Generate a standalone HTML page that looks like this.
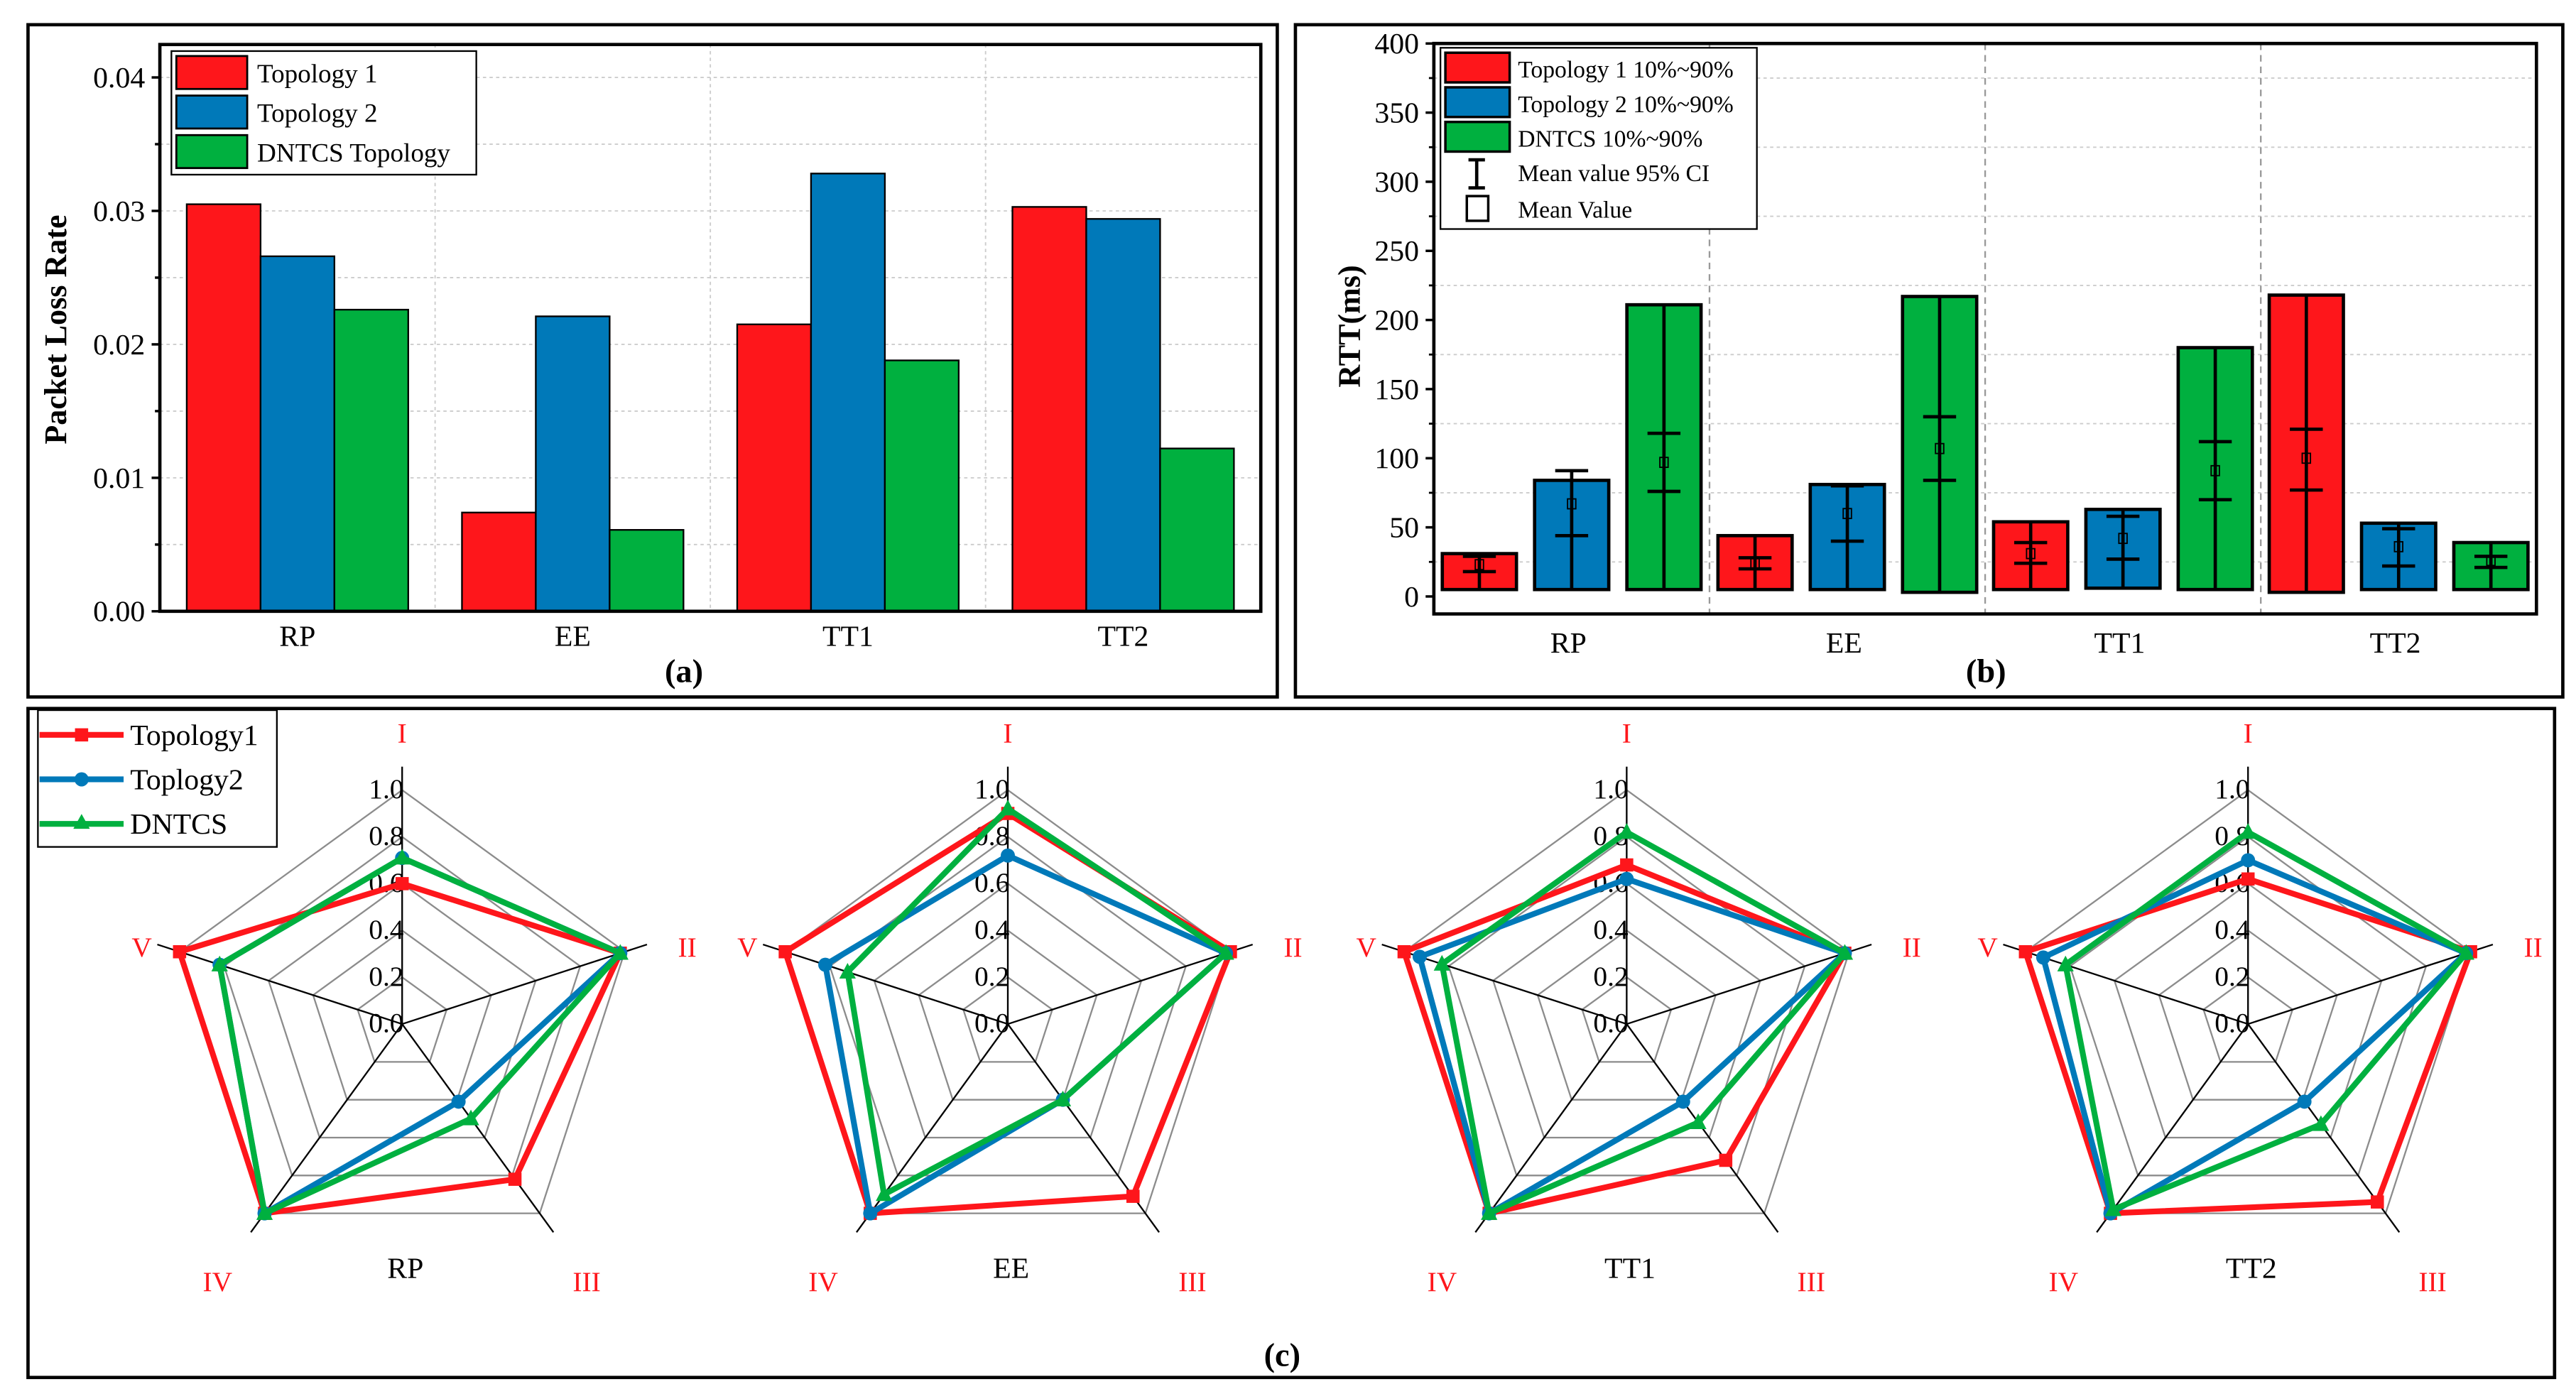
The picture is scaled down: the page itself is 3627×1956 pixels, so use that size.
<!DOCTYPE html>
<html><head><meta charset="utf-8"><style>
html,body{margin:0;padding:0;background:#fff;}
svg{display:block;font-family:"Liberation Serif",serif;}
</style></head><body>
<svg id="fig" xmlns="http://www.w3.org/2000/svg" width="3627" height="1956" viewBox="0 0 1563 843" preserveAspectRatio="none">
<rect x="0" y="0" width="1563" height="843" fill="#fff"/>
<rect x="17" y="15" width="758" height="408" fill="none" stroke="#000" stroke-width="2"/>
<rect x="786" y="15" width="769" height="408" fill="none" stroke="#000" stroke-width="2"/>
<rect x="17" y="430" width="1533" height="406" fill="none" stroke="#000" stroke-width="2"/>
<g id="ga"></g><g id="gb"></g><g id="gc"></g>
<text x="415" y="414" font-size="20" font-weight="bold" text-anchor="middle">(a)</text>
<text x="1205" y="414" font-size="20" font-weight="bold" text-anchor="middle">(b)</text>
<text x="778" y="829" font-size="20" font-weight="bold" text-anchor="middle">(c)</text>
</svg>
<script>
// ---------- Panel (a) data ----------
const aCategories = ["RP","EE","TT1","TT2"];
const aTopo1 = [0.0305,0.0074,0.0215,0.0303];
const aTopo2 = [0.0266,0.0221,0.0328,0.0294];
const aDntcs = [0.0226,0.0061,0.0188,0.0122];
const aTicks = ["0.00","0.01","0.02","0.03","0.04"];
const aTickVals = [0,0.01,0.02,0.03,0.04];
// ---------- Panel (b) data ----------
const bCategories = ["RP","EE","TT1","TT2"];
const bBottom = [[5,5,5],[5,5,3],[5,6,5],[3,5,5]];
const bTop = [[31,84,211],[44,81,217],[54,63,180],[218,53,39]];
const bCiLow = [[18,44,76],[20,40,84],[24,27,70],[77,22,21]];
const bCiHigh = [[29,91,118],[28,80,130],[39,58,112],[121,49,29]];
const bMean = [[23,67,97],[24,60,107],[31,42,91],[100,36,26]];
const bTicks = [0,50,100,150,200,250,300,350,400];
// ---------- Panel (c) data ----------
const cCharts = ["RP","EE","TT1","TT2"];
const cAxes = ["I","II","III","IV","V"];
const cTopo1 = [[0.60,0.98,0.82,1.0,1.0],[0.90,1.0,0.91,1.0,1.0],[0.68,0.98,0.72,1.0,1.0],[0.62,1.0,0.94,1.0,1.0]];
const cTopo2 = [[0.71,0.98,0.41,1.0,0.82],[0.72,0.98,0.40,1.0,0.82],[0.62,0.98,0.41,1.0,0.93],[0.70,0.98,0.41,1.0,0.92]];
const cDntcs = [[0.71,0.98,0.50,1.0,0.82],[0.92,0.98,0.40,0.90,0.72],[0.82,0.98,0.52,1.0,0.83],[0.82,0.98,0.53,0.98,0.82]];
const cTicks = ["0.0","0.2","0.4","0.6","0.8","1.0"];

const NS="http://www.w3.org/2000/svg";
const RED="#fe161b", BLUE="#0079b9", GREEN="#00b03f";
function mk(tag, attrs, parent, txt){
  const e=document.createElementNS(NS,tag);
  for(const k in attrs) e.setAttribute(k,attrs[k]);
  if(txt!==undefined) e.textContent=txt;
  parent.appendChild(e); return e;
}

// ===== Panel A =====
(function(){
  const g=document.getElementById('ga');
  const x0=97,x1=765,y0=27,y1=371;
  const yS=v=>371-v/0.01*81;
  const cw=(x1-x0)/aCategories.length, bw=44.8;
  const xC=i=>x0+cw*(i+0.5);
  for(let v=0.005; v<0.042; v+=0.005){
    const l=mk('line',{x1:x0,x2:x1,y1:yS(v),y2:yS(v),stroke:"#ccc","stroke-dasharray":"2,2","stroke-width":0.8},g);
    
    
  }
  for(let i=1;i<aCategories.length;i++){
    const l=mk('line',{x1:x0+cw*i,x2:x0+cw*i,y1:y0,y2:y1,stroke:"#ccc","stroke-dasharray":"2,2","stroke-width":0.8},g);
    
    
  }
  const series=[[aTopo1,RED,"topology-1"],[aTopo2,BLUE,"topology-2"],[aDntcs,GREEN,"dntcs"]];
  aCategories.forEach((c,i)=>{
    series.forEach((s,j)=>{
      const v=s[0][i]; const x=xC(i)+(j-1.5)*bw;
      const r=mk('rect',{x:x,y:yS(v),width:bw,height:yS(0)-yS(v),fill:s[1],stroke:"#000","stroke-width":1},g);
      
      
    });
    const t=mk('text',{x:xC(i),y:392,"font-size":18,"text-anchor":"middle"},g,c);
    
    
  });
  mk('path',{d:`M${x0},${y0}H${x1}V${y1}H${x0}Z`,fill:"none",stroke:"#000","stroke-width":2},g);
  aTickVals.forEach((v,i)=>{
    mk('line',{x1:x0-5,x2:x0,y1:yS(v),y2:yS(v),stroke:"#000","stroke-width":1.5},g);
    const t=mk('text',{x:x0-9,y:yS(v)+6,"font-size":18,"text-anchor":"end"},g,aTicks[i]);
    
    
  });
  for(let v=0.005;v<0.042;v+=0.01) mk('line',{x1:x0-3,x2:x0,y1:yS(v),y2:yS(v),stroke:"#000","stroke-width":1.5},g);
  const yl=mk('text',{x:0,y:0,"font-size":19,"font-weight":"bold","text-anchor":"middle",transform:"translate(40,200) rotate(-90)"},g,"Packet Loss Rate");
  
  
  const lg=mk('g',{},g);
  
  
  mk('rect',{x:104,y:31,width:185,height:75,fill:"#fff",stroke:"#000","stroke-width":1},lg);
  ["Topology 1","Topology 2","DNTCS Topology"].forEach((n,i)=>{
    mk('rect',{x:107,y:34+i*24,width:43,height:20,fill:series[i][1],stroke:"#000","stroke-width":1.2},lg);
    const t=mk('text',{x:156,y:50+i*24,"font-size":16},lg,n);
    
    
  });
})();

// ===== Panel B =====
(function(){
  const g=document.getElementById('gb');
  const x0=870,x1=1539,y0=26.4,y1=372.6;
  const yS=v=>362-v/50*41.95;
  const cw=(x1-x0)/bCategories.length, bw=45, sp=56;
  const xC=i=>x0+cw*(i+0.5);
  for(let v=25; v<=400; v+=50){
    const l=mk('line',{x1:x0,x2:x1,y1:yS(v),y2:yS(v),stroke:"#ccc","stroke-dasharray":"2,2","stroke-width":0.8},g);
    
    
  }
  for(let i=1;i<bCategories.length;i++){
    const l=mk('line',{x1:x0+cw*i,x2:x0+cw*i,y1:y0,y2:y1,stroke:"#999","stroke-dasharray":"4,3","stroke-width":1},g);
    
    
  }
  const cols=[RED,BLUE,GREEN], names=["topology-1","topology-2","dntcs"];
  bCategories.forEach((c,i)=>{
    for(let j=0;j<3;j++){
      const cx=xC(i)+(j-1)*sp;
      const r=mk('rect',{x:cx-bw/2,y:yS(bTop[i][j]),width:bw,height:yS(bBottom[i][j])-yS(bTop[i][j]),fill:cols[j],stroke:"#000","stroke-width":2},g);
      
      
      const hi=Math.max(bTop[i][j],bCiHigh[i][j]);
      const w=mk('path',{d:`M${cx},${yS(bBottom[i][j])}V${yS(hi)}M${cx-10},${yS(bCiLow[i][j])}h20M${cx-10},${yS(bCiHigh[i][j])}h20`,stroke:"#000","stroke-width":2,fill:"none"},g);
      
      
      const m=mk('rect',{x:cx-2.5,y:yS(bMean[i][j])-3,width:5,height:6,fill:"none",stroke:"#000","stroke-width":0.8},g);
      
      
    }
    const t=mk('text',{x:xC(i)-2,y:396,"font-size":18,"text-anchor":"middle"},g,c);
    
    
  });
  mk('path',{d:`M${x0},${y0}H${x1}V${y1}H${x0}Z`,fill:"none",stroke:"#000","stroke-width":2},g);
  bTicks.forEach(v=>{
    mk('line',{x1:x0-5,x2:x0,y1:yS(v),y2:yS(v),stroke:"#000","stroke-width":1.5},g);
    if(v<400) mk('line',{x1:x0-3,x2:x0,y1:yS(v+25),y2:yS(v+25),stroke:"#000","stroke-width":1.2},g);
    const t=mk('text',{x:x0-9,y:yS(v)+6,"font-size":18,"text-anchor":"end"},g,String(v));
    
    
  });
  const yl=mk('text',{x:0,y:0,"font-size":19,"font-weight":"bold","text-anchor":"middle",transform:"translate(825,198) rotate(-90)"},g,"RTT(ms)");
  
  
  const lg=mk('g',{},g);
  
  
  mk('rect',{x:874,y:29,width:192,height:110,fill:"#fff",stroke:"#000","stroke-width":1},lg);
  ["Topology 1 10%~90%","Topology 2 10%~90%","DNTCS  10%~90%"].forEach((n,i)=>{
    mk('rect',{x:877,y:32+i*21,width:39,height:18,fill:cols[i],stroke:"#000","stroke-width":1.5},lg);
    const t=mk('text',{x:921,y:47+i*21,"font-size":14.5},lg,n);
    
    
  });
  mk('path',{d:"M896,97V114M891,97h10M891,114h10",stroke:"#000","stroke-width":2,fill:"none"},lg);
  mk('rect',{x:890,y:119,width:13,height:15,fill:"none",stroke:"#000","stroke-width":1.5},lg);
  const t1=mk('text',{x:921,y:110,"font-size":14.5},lg,"Mean value 95% CI");
  
  
  const t2=mk('text',{x:921,y:132,"font-size":14.5},lg,"Mean Value");
  
  
})();

// ===== Panel C =====
(function(){
  const g=document.getElementById('gc');
  const centersX=[244,611.5,987,1364], cy=621.5, R=142;
  const ang=k=>(-90+72*k)*Math.PI/180;
  const pt=(cx,k,v)=>[cx+R*v*Math.cos(ang(k)), cy+R*v*Math.sin(ang(k))];
  const lblOff=[[0,-177],[173,-47],[112,156],[-112,156],[-158,-47]];
  cCharts.forEach((name,ci)=>{
    const cx=centersX[ci];
    const rg=mk('g',{},g);
    
    
    for(let r=0.2;r<=1.01;r+=0.2){
      const d=cAxes.map((a,k)=>pt(cx,k,r).join(',')).join(' ');
      mk('polygon',{points:d,fill:"none",stroke:"#8c8c8c","stroke-width":1},rg);
    }
    cAxes.forEach((a,k)=>{
      const p=pt(cx,k,1.1);
      mk('line',{x1:cx,y1:cy,x2:p[0],y2:p[1],stroke:"#000","stroke-width":1},rg);
      const t=mk('text',{x:cx+lblOff[k][0],y:cy+lblOff[k][1]+6,"font-size":17,fill:"#fe161b","text-anchor":"middle"},rg,a);
      
      
    });
    cTicks.forEach((tk,i)=>{
      const t=mk('text',{x:cx+1,y:cy-R*i*0.2+5,"font-size":17,"text-anchor":"end"},rg,tk);
      
      
    });
    const cl=mk('text',{x:cx+2,y:cy+154,"font-size":18,"text-anchor":"middle"},rg,name);
    
    
    const ser=[[cTopo1[ci],RED,'sq','topology1'],[cTopo2[ci],BLUE,'ci','topology2'],[cDntcs[ci],GREEN,'tr','dntcs']];
    ser.forEach(s=>{
      const pts=s[0].map((v,k)=>pt(cx,k,v));
      const pl=mk('polygon',{points:pts.map(p=>p.join(',')).join(' '),fill:"none",stroke:s[1],"stroke-width":3.5,"stroke-linejoin":"miter"},rg);
      
      
      pts.forEach(p=>{
        let m;
        if(s[2]==='sq') m=mk('rect',{x:p[0]-4,y:p[1]-4,width:8,height:8,fill:s[1]},rg);
        else if(s[2]==='ci') m=mk('circle',{cx:p[0],cy:p[1],r:4.3,fill:s[1]},rg);
        else m=mk('polygon',{points:`${p[0]},${p[1]-5.5} ${p[0]-5},${p[1]+4} ${p[0]+5},${p[1]+4}`,fill:s[1]},rg);
        
        
      });
    });
  });
  const lg=mk('g',{},g);
  
  
  mk('rect',{x:23,y:431,width:145,height:83,fill:"#fff",stroke:"#000","stroke-width":1},lg);
  const ls=[["Topology1",RED,'sq'],["Toplogy2",BLUE,'ci'],["DNTCS",GREEN,'tr']];
  ls.forEach((s,i)=>{
    const y=446+i*27;
    mk('line',{x1:24,x2:75,y1:y,y2:y,stroke:s[1],"stroke-width":3.5},lg);
    if(s[2]==='sq') mk('rect',{x:45.5,y:y-4,width:8,height:8,fill:s[1]},lg);
    else if(s[2]==='ci') mk('circle',{cx:49.5,cy:y,r:4.3,fill:s[1]},lg);
    else mk('polygon',{points:`49.5,${y-6} 44.5,${y+3} 54.5,${y+3}`,fill:s[1]},lg);
    const t=mk('text',{x:79,y:y+6,"font-size":18},lg,s[0]);
    
    
  });
})();
</script>
</body></html>
